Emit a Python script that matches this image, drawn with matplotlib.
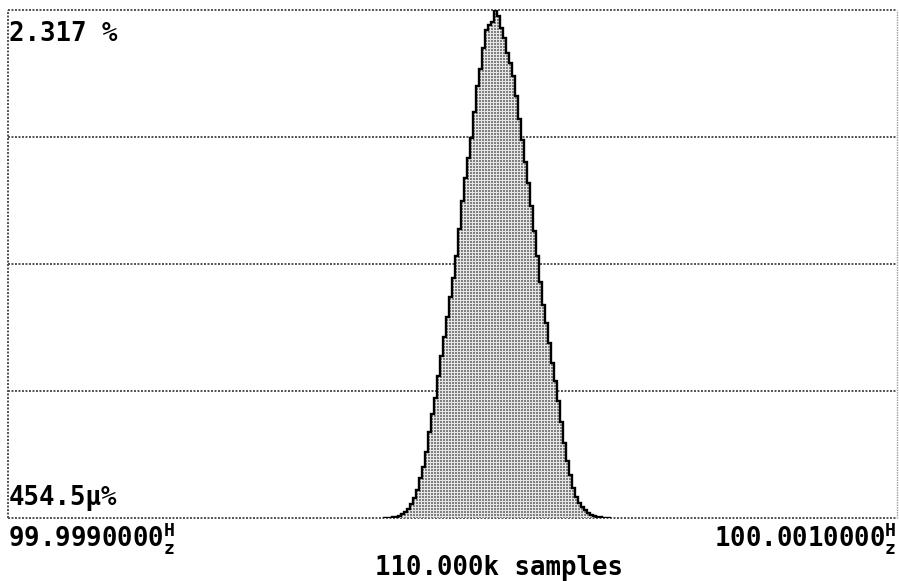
import matplotlib
matplotlib.use('Agg')
import matplotlib.pyplot as plt
import numpy as np

# frequency histogram: bins are offsets from 100 Hz in micro-Hz, values are % of samples
bin_start_uhz = -156.4
bin_width_uhz = 6.75
share_pct = [0.0009, 0.0018, 0.0027, 0.0036, 0.0045, 0.009, 0.019, 0.028, 0.042, 0.065,
             0.093, 0.127, 0.181, 0.232, 0.301, 0.394, 0.475, 0.547, 0.649, 0.737,
             0.825, 0.917, 1.008, 1.093, 1.193, 1.320, 1.448, 1.552, 1.640, 1.733,
             1.853, 1.969, 2.046, 2.143, 2.224, 2.247, 2.262, 2.317, 2.290, 2.236,
             2.190, 2.120, 2.074, 2.016, 1.923, 1.819, 1.726, 1.622, 1.529, 1.425,
             1.309, 1.193, 1.078, 0.973, 0.888, 0.800, 0.707, 0.626, 0.533, 0.440,
             0.343, 0.260, 0.197, 0.139, 0.097, 0.070, 0.049, 0.035, 0.023, 0.015,
             0.009, 0.006, 0.0035, 0.0025, 0.0016, 0.0009]

x_min_uhz, x_max_uhz = -1000, 1000
y_min_pct, y_max_pct = 454.5e-6, 2.317
y_top_label = '2.317 %'
y_bottom_label = '454.5µ%'
x_left_label = '99.9990000'
x_right_label = '100.0010000'
samples_label = '110.000k samples'

plt.rcParams['mathtext.fontset'] = 'custom'
plt.rcParams['mathtext.bf'] = 'DejaVu Sans Mono:bold'
plt.rcParams['mathtext.rm'] = 'DejaVu Sans Mono:bold'

W, H = 899, 581
fig = plt.figure(figsize=(W / 100, H / 100), dpi=100)
ax = fig.add_axes([8 / W, 63 / H, 889 / W, 508 / H])
ax.set_xlim(x_min_uhz, x_max_uhz)
ax.set_ylim(y_min_pct, y_max_pct)
ax.set_axis_off()

edges = bin_start_uhz + bin_width_uhz * np.arange(len(share_pct) + 1)

# grid: 4 divisions, dotted (sits behind the histogram)
dots = (0, (1, 0.8))
for yv in np.linspace(y_min_pct, y_max_pct, 5):
    ax.axhline(yv, color='#505050', linestyle=dots, linewidth=1.4, zorder=0.5, clip_on=False)
ax.axvline(x_min_uhz, color='#505050', linestyle=dots, linewidth=1.4, zorder=0.5, clip_on=False)
ax.axvline(x_max_uhz, color='#9a9a9a', linestyle=dots, linewidth=1.0, zorder=0.5, clip_on=False)

# dotted grey fill, clipped to the histogram shape
yy, xx = np.mgrid[0:508, 0:889]
pattern = np.where((yy % 3 < 2) & (xx % 3 < 2), 0.5, 0.9)
img = ax.imshow(pattern, cmap='gray', vmin=0, vmax=1, aspect='auto',
                extent=[x_min_uhz, x_max_uhz, y_min_pct, y_max_pct],
                interpolation='nearest', zorder=1)
shape = ax.stairs(share_pct, edges, baseline=y_min_pct, fill=True,
                  facecolor='none', edgecolor='none')
img.set_clip_path(shape)

ax.stairs(share_pct, edges, baseline=y_min_pct, color='black', linewidth=1.7, zorder=3)

font = dict(family='DejaVu Sans Mono', weight='bold', size=18.5, color='black')
hz = r'${}^{\mathbf{H}}_{\mathbf{z}}$'
fig.text(9 / W, 1 - 41 / H, y_top_label, ha='left', va='baseline', **font)
fig.text(9 / W, 1 - 505 / H, y_bottom_label, ha='left', va='baseline', **font)
fig.text(8 / W, 1 - 546 / H, x_left_label + hz, ha='left', va='baseline', **font)
fig.text(896 / W, 1 - 546 / H, x_right_label + hz, ha='right', va='baseline', **font)
fig.text(499 / W, 1 - 575 / H, samples_label, ha='center', va='baseline', **font)

fig.savefig('out.png', dpi=100)
